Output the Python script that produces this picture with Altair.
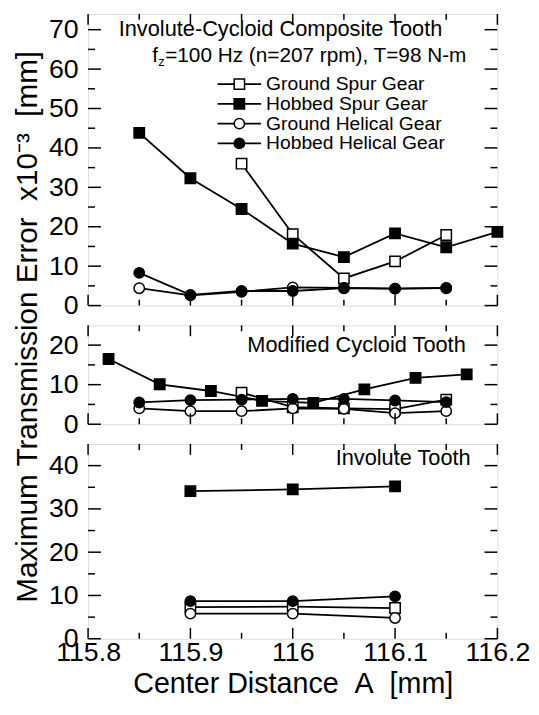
import altair as alt
import pandas as pd

FONT = "Liberation Sans"
NB = "\u00a0"
series = ["Ground Spur Gear", "Hobbed Spur Gear", "Ground Helical Gear", "Hobbed Helical Gear"]
shapes = ["square", "square", "circle", "circle"]
fills = ["white", "black", "white", "black"]

# ---------- top panel: Involute-Cycloid Composite Tooth ----------
top_gs_x = [115.95, 116.0, 116.05, 116.1, 116.15]
top_gs_y = [36.0, 18.1, 6.9, 11.2, 17.9]
top_hs_x = [115.85, 115.9, 115.95, 116.0, 116.05, 116.1, 116.15, 116.2]
top_hs_y = [43.8, 32.3, 24.5, 15.7, 12.3, 18.3, 14.8, 18.7]
top_gh_x = [115.85, 115.9, 115.95, 116.0, 116.05, 116.1, 116.15]
top_gh_y = [4.4, 2.6, 3.5, 4.6, 4.5, 4.3, 4.4]
top_hh_x = [115.85, 115.9, 115.95, 116.0, 116.05, 116.1, 116.15]
top_hh_y = [8.3, 2.7, 3.7, 3.7, 4.4, 4.3, 4.5]

# ---------- middle panel: Modified Cycloid Tooth ----------
mid_gs_x = [115.95, 116.0, 116.05, 116.1, 116.15]
mid_gs_y = [8.0, 4.3, 4.0, 3.8, 6.2]
mid_hs_x = [115.82, 115.87, 115.92, 115.97, 116.02, 116.07, 116.12, 116.17]
mid_hs_y = [16.5, 10.1, 8.4, 5.9, 5.4, 8.8, 11.7, 12.6]
mid_gh_x = [115.85, 115.9, 115.95, 116.0, 116.05, 116.1, 116.15]
mid_gh_y = [4.0, 3.3, 3.3, 4.0, 3.9, 2.8, 3.3]
mid_hh_x = [115.85, 115.9, 115.95, 116.0, 116.05, 116.1, 116.15]
mid_hh_y = [5.5, 6.1, 6.2, 6.4, 6.4, 6.0, 5.6]

# ---------- bottom panel: Involute Tooth ----------
bot_gs_x = [115.9, 116.0, 116.1]
bot_gs_y = [7.3, 7.4, 7.1]
bot_hs_x = [115.9, 116.0, 116.1]
bot_hs_y = [34.1, 34.5, 35.2]
bot_gh_x = [115.9, 116.0, 116.1]
bot_gh_y = [5.8, 5.8, 4.8]
bot_hh_x = [115.9, 116.0, 116.1]
bot_hh_y = [8.7, 8.7, 9.8]

x_labels = [115.8, 115.9, 116.0, 116.1, 116.2]
x_minor = [115.85, 115.95, 116.05, 116.15]

top_y_labels = [0, 10, 20, 30, 40, 50, 60, 70]
top_y_minor = [5, 15, 25, 35, 45, 55, 65]
mid_y_labels = [0, 10, 20]
mid_y_minor = [5, 15]
bot_y_labels = [0, 10, 20, 30, 40]
bot_y_minor = [5, 15, 25, 35]

W = 414


def long_df(gs, hs, gh, hh):
    rows = []
    for name, (xs, ys) in zip(series, [gs, hs, gh, hh]):
        for xv, yv in zip(xs, ys):
            rows.append({"x": xv, "y": yv, "series": name})
    return pd.DataFrame(rows)


xscale = alt.Scale(domain=[115.8, 116.2], nice=False, zero=False)
shape_enc = alt.Shape("series:N", scale=alt.Scale(domain=series, range=shapes), legend=None)
fill_enc = alt.Fill("series:N", scale=alt.Scale(domain=series, range=fills), legend=None)


def panel(df, H, ymax, ylabels, yminor, ytitle=None, xaxis=False, texts=()):
    yscale = alt.Scale(domain=[0, ymax], nice=False, zero=True)
    yax_kw = dict(values=ylabels, labelFontSize=27, labelPadding=10, ticks=False,
                  domain=False, grid=False, labelFont=FONT, labelColor="black")
    if ytitle:
        yax = alt.Axis(title=ytitle, titleFontSize=30, titleFontWeight="normal",
                       titleFont=FONT, titlePadding=6, titleY=1, titleAlign="center",
                       titleColor="black", **yax_kw)
    else:
        yax = alt.Axis(title=None, **yax_kw)
    if xaxis:
        xax = alt.Axis(values=x_labels, format=".1~f", labelFontSize=27, labelPadding=1,
                       labelFlush=False, labelOverlap=False,
                       ticks=False, domain=False, grid=False, labelFont=FONT,
                       labelColor="black",
                       title="Center Distance" + NB + NB + "A" + NB + NB + "[mm]",
                       titleFontSize=29, titleFontWeight="normal", titleFont=FONT,
                       titlePadding=4, titleColor="black")
    else:
        xax = None

    def X(field):
        return alt.X(field, scale=xscale, axis=xax)

    def Y(field):
        return alt.Y(field, scale=yscale, axis=yax)

    base = alt.Chart(df)
    lines = base.mark_line(color="black", strokeWidth=1.8).encode(
        x=X("x:Q"), y=Y("y:Q"), detail="series:N")
    pts = base.mark_point(filled=True, stroke="black", strokeWidth=1.5, size=110,
                          opacity=1, fillOpacity=1).encode(
        x=X("x:Q"), y=Y("y:Q"), shape=shape_enc, fill=fill_enc)
    layers = [lines, pts]

    # inward ticks on all four sides
    ymaj = pd.DataFrame({"y": ylabels})
    ymin = pd.DataFrame({"y": yminor})
    xmaj = pd.DataFrame({"x": x_labels})
    xmin = pd.DataFrame({"x": x_minor})
    for d, L in [(ymaj, 13), (ymin, 7)]:
        layers.append(alt.Chart(d).mark_rule(color="black", strokeWidth=1.5).encode(
            y=Y("y:Q"), x=alt.value(0), x2=alt.value(L)))
        layers.append(alt.Chart(d).mark_rule(color="black", strokeWidth=1.5).encode(
            y=Y("y:Q"), x=alt.value(W), x2=alt.value(W - L)))
    for d, L in [(xmaj, 11), (xmin, 6)]:
        layers.append(alt.Chart(d).mark_rule(color="black", strokeWidth=1.5).encode(
            x=X("x:Q"), y=alt.value(H), y2=alt.value(H - L)))
        layers.append(alt.Chart(d).mark_rule(color="black", strokeWidth=1.5).encode(
            x=X("x:Q"), y=alt.value(0), y2=alt.value(L)))

    for t, px, py, size, align, baseline in texts:
        layers.append(alt.Chart(pd.DataFrame({"t": [t]})).mark_text(
            font=FONT, fontSize=size, align=align, baseline=baseline, color="black"
        ).encode(x=alt.value(px), y=alt.value(py), text="t:N"))

    return alt.layer(*layers).properties(width=W, height=H)


# legend inside the top panel
ldf = pd.DataFrame({"series": series, "i": [0, 1, 2, 3]})
ly = alt.Y("i:Q", scale=alt.Scale(domain=[0, 3], range=[71, 131]), axis=None)
leg_rule = alt.Chart(ldf).mark_rule(color="black", strokeWidth=1.8).encode(
    y=ly, x=alt.value(131), x2=alt.value(175))
leg_pts = alt.Chart(ldf).mark_point(filled=True, stroke="black", strokeWidth=1.5, size=110,
                                    opacity=1, fillOpacity=1).encode(
    y=ly, x=alt.value(153), shape=shape_enc, fill=fill_enc)
leg_txt = alt.Chart(ldf).mark_text(font=FONT, fontSize=19.5, align="left", baseline="middle",
                                   color="black").encode(
    y=ly, x=alt.value(180), text="series:N")
legend = alt.layer(leg_rule, leg_pts, leg_txt)

top_texts = [
    ("Involute-Cycloid Composite Tooth", 31, 15, 22, "left", "middle"),
    ("f", 65, 49, 21, "left", "alphabetic"),
    ("z", 71, 53, 13, "left", "alphabetic"),
    ("=100 Hz (n=207 rpm), T=98 N-m", 78, 49, 21, "left", "alphabetic"),
]
top_data = panel(long_df((top_gs_x, top_gs_y), (top_hs_x, top_hs_y),
                         (top_gh_x, top_gh_y), (top_hh_x, top_hh_y)),
                 295, 74, top_y_labels, top_y_minor, texts=top_texts)
top = alt.layer(top_data, legend).resolve_scale(y="independent", x="independent")

mid = panel(long_df((mid_gs_x, mid_gs_y), (mid_hs_x, mid_hs_y),
                    (mid_gh_x, mid_gh_y), (mid_hh_x, mid_hh_y)),
            100, 25, mid_y_labels, mid_y_minor,
            ytitle="Maximum Transmission Error" + NB + NB + "x10\u207b\u00b3" + NB + NB + "[mm]",
            texts=[("Modified Cycloid Tooth", 382, 20, 22, "right", "middle")])

bot = panel(long_df((bot_gs_x, bot_gs_y), (bot_hs_x, bot_hs_y),
                    (bot_gh_x, bot_gh_y), (bot_hh_x, bot_hh_y)),
            197, 45, bot_y_labels, bot_y_minor, xaxis=True,
            texts=[("Involute Tooth", 387, 14, 22, "right", "middle")])

chart = alt.vconcat(top, mid, bot, spacing=20, bounds="flush").properties(
    padding={"left": 4, "top": 0, "right": 0, "bottom": 0}
).configure_view(stroke="black", strokeWidth=1.8).configure(font=FONT)

chart.save("out.html", embed_options={"renderer": "svg", "actions": False})
